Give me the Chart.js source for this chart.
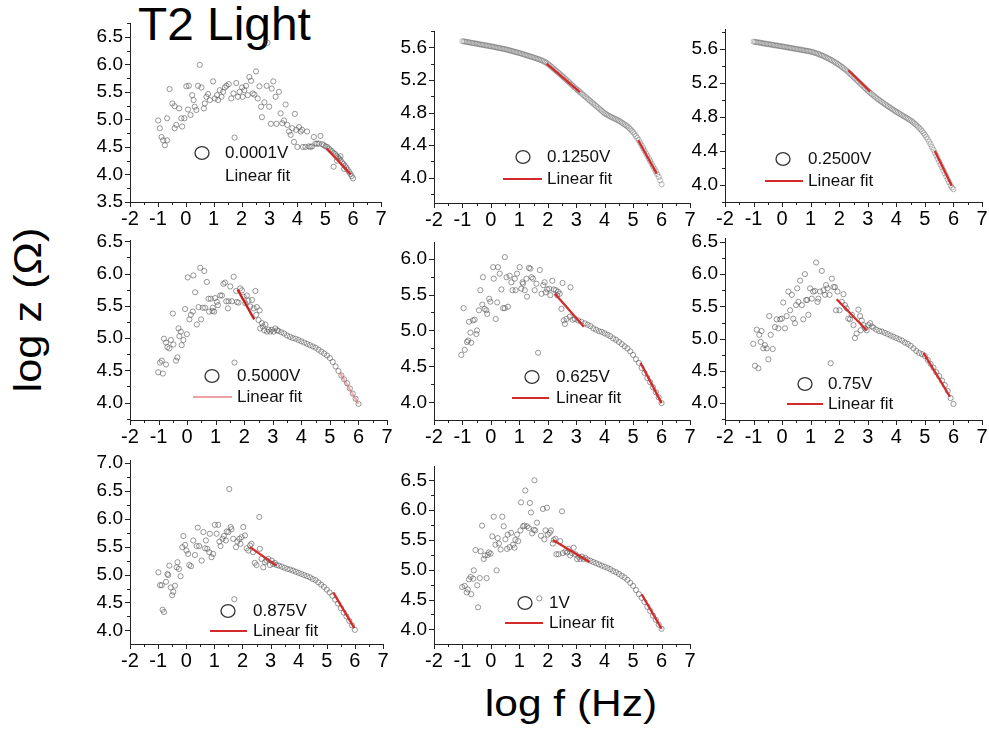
<!DOCTYPE html>
<html>
<head>
<meta charset="utf-8">
<title>T2 Light</title>
<script src="https://cdn.jsdelivr.net/npm/chart.js@4.4.1/dist/chart.umd.min.js"></script>
<style>
  html, body { margin: 0; padding: 0; background: #fff; }
  #fig { position: relative; width: 989px; height: 734px; overflow: hidden;
         font-family: "Liberation Sans", Arial, sans-serif; color: #000; }
  #fig canvas { position: absolute; }
  .lbl { position: absolute; white-space: nowrap; }
  #title { left: 138px; top: 1px; font-size: 46px; line-height: 46px;
           transform-origin: left center; transform: scaleX(1.04); }
  #ytitle { left: 28px; top: 310px; font-size: 38px; line-height: 38px;
            transform: translate(-50%, -50%) rotate(-90deg) scaleX(1.14); }
  #xtitle { left: 571px; top: 686px; font-size: 36px; line-height: 36px;
            transform: translateX(-50%) scaleX(1.18); }
</style>
</head>
<body>
<div id="fig">
  <div class="lbl" id="title">T2 Light</div>
  <div class="lbl" id="ytitle">log z (Ω)</div>
  <div class="lbl" id="xtitle">log f (Hz)</div>
</div>
<script>
// ---- axis tick labels ----
const fTicks   = [-2, -1, 0, 1, 2, 3, 4, 5, 6, 7];
const zTicksA  = [3.5, 4.0, 4.5, 5.0, 5.5, 6.0, 6.5];
const zTicksB  = [4.0, 4.4, 4.8, 5.2, 5.6];
const zTicksC  = [4.0, 4.5, 5.0, 5.5, 6.0, 6.5];
const zTicksD  = [4.0, 4.5, 5.0, 5.5, 6.0];
const zTicksE  = [4.0, 4.5, 5.0, 5.5, 6.0, 6.5, 7.0];

// ---- bias voltages ----
const biasLabels = ['0.0001V', '0.1250V', '0.2500V', '0.5000V', '0.625V', '0.75V', '0.875V', '1V'];

// ---- frequency sweep (log f) shared by the smooth spectra ----
const sweepF = [
  -1.00,-0.95,-0.90,-0.85,-0.80,-0.75,-0.70,-0.65,-0.60,-0.55,
  -0.50,-0.45,-0.40,-0.35,-0.30,-0.25,-0.20,-0.15,-0.10,-0.05,
   0.00, 0.05, 0.10, 0.15, 0.20, 0.25, 0.30, 0.35, 0.40, 0.45,
   0.50, 0.55, 0.60, 0.65, 0.70, 0.75, 0.80, 0.85, 0.90, 0.95,
   1.00, 1.05, 1.10, 1.15, 1.20, 1.25, 1.30, 1.35, 1.40, 1.45,
   1.50, 1.55, 1.60, 1.65, 1.70, 1.75, 1.80, 1.85, 1.90, 1.95,
   2.00, 2.05, 2.10, 2.15, 2.20, 2.25, 2.30, 2.35, 2.40, 2.45,
   2.50, 2.55, 2.60, 2.65, 2.70, 2.75, 2.80, 2.85, 2.90, 2.95,
   3.00, 3.05, 3.10, 3.15, 3.20, 3.25, 3.30, 3.35, 3.40, 3.45,
   3.50, 3.55, 3.60, 3.65, 3.70, 3.75, 3.80, 3.85, 3.90, 3.95,
   4.00, 4.05, 4.10, 4.15, 4.20, 4.25, 4.30, 4.35, 4.40, 4.45,
   4.50, 4.55, 4.60, 4.65, 4.70, 4.75, 4.80, 4.85, 4.90, 4.95,
   5.00, 5.05, 5.10, 5.15, 5.20, 5.25, 5.30, 5.35, 5.40, 5.45,
   5.50, 5.55, 5.60, 5.65, 5.70, 5.75, 5.80, 5.85, 5.90, 5.95,
   6.00
];

// log z at 0.1250 V
const z0125 = [
  5.675,5.672,5.669,5.666,5.663,5.660,5.656,5.653,5.650,5.647,
  5.644,5.641,5.637,5.634,5.631,5.628,5.625,5.621,5.618,5.615,
  5.612,5.609,5.605,5.602,5.598,5.594,5.591,5.587,5.584,5.580,
  5.577,5.572,5.568,5.563,5.558,5.554,5.549,5.544,5.540,5.535,
  5.530,5.525,5.519,5.514,5.508,5.503,5.497,5.492,5.486,5.481,
  5.475,5.469,5.463,5.457,5.451,5.445,5.438,5.430,5.420,5.410,
  5.398,5.385,5.370,5.355,5.340,5.325,5.310,5.295,5.280,5.265,
  5.250,5.234,5.218,5.202,5.186,5.170,5.154,5.138,5.122,5.106,
  5.090,5.075,5.060,5.045,5.030,5.015,5.000,4.985,4.970,4.955,
  4.940,4.925,4.910,4.895,4.880,4.865,4.850,4.835,4.820,4.805,
  4.790,4.780,4.770,4.760,4.750,4.742,4.733,4.725,4.717,4.708,
  4.700,4.689,4.677,4.665,4.653,4.642,4.630,4.613,4.596,4.578,
  4.560,4.536,4.512,4.487,4.460,4.428,4.396,4.364,4.332,4.300,
  4.268,4.236,4.204,4.172,4.140,4.110,4.078,4.045,4.010,3.968,
  3.920
];

// log z at 0.2500 V
const z0250 = [
  5.686,5.683,5.680,5.678,5.675,5.672,5.669,5.666,5.663,5.660,
  5.657,5.655,5.652,5.649,5.646,5.643,5.641,5.638,5.635,5.632,
  5.630,5.627,5.624,5.621,5.618,5.615,5.612,5.609,5.606,5.603,
  5.600,5.597,5.594,5.591,5.588,5.585,5.582,5.579,5.576,5.573,
  5.570,5.565,5.560,5.555,5.549,5.543,5.537,5.530,5.523,5.516,
  5.508,5.500,5.492,5.483,5.474,5.465,5.455,5.445,5.434,5.423,
  5.412,5.400,5.388,5.375,5.362,5.348,5.334,5.318,5.302,5.286,
  5.270,5.254,5.238,5.222,5.206,5.190,5.174,5.158,5.142,5.126,
  5.110,5.095,5.080,5.066,5.052,5.038,5.025,5.012,4.999,4.987,
  4.975,4.963,4.951,4.939,4.928,4.917,4.905,4.894,4.883,4.872,
  4.861,4.851,4.841,4.831,4.821,4.811,4.801,4.791,4.781,4.770,
  4.759,4.747,4.734,4.720,4.705,4.689,4.672,4.654,4.634,4.613,
  4.590,4.565,4.538,4.509,4.478,4.446,4.414,4.380,4.346,4.311,
  4.276,4.241,4.206,4.171,4.136,4.101,4.066,4.031,3.996,3.970,
  3.950
];

// [log f, log z] pairs for the noisy spectra
const pts0001 = [
  [-0.99,4.98],[-0.93,4.84],[-0.87,4.68],[-0.81,4.62],[-0.75,4.53],[-0.67,4.62],[-0.67,5.02],[-0.58,5.55],
  [-0.48,5.29],[-0.40,5.24],[-0.40,4.84],[-0.34,4.90],[-0.24,5.20],[-0.16,5.02],[-0.13,4.87],[-0.05,5.02],
  [0.02,5.60],[0.08,5.18],[0.11,5.61],[0.17,5.08],[0.23,5.44],[0.28,5.35],[0.32,5.23],[0.38,5.17],
  [0.44,5.61],[0.50,5.99],[0.56,5.58],[0.65,5.20],[0.68,5.29],[0.74,5.41],[0.80,5.46],[0.86,5.35],
  [0.98,5.69],[1.04,5.38],[1.12,5.44],[1.16,5.35],[1.22,5.53],[1.28,5.41],[1.34,5.50],[1.40,5.58],
  [1.46,5.61],[1.54,5.64],[1.63,5.38],[1.71,5.47],[1.75,4.67],[1.81,5.66],[1.87,5.41],[1.93,5.50],
  [2.02,5.58],[2.04,5.41],[2.10,5.53],[2.16,5.61],[2.22,5.44],[2.28,5.77],[2.34,5.70],[2.40,5.47],
  [2.46,5.45],[2.52,5.87],[2.58,5.38],[2.64,5.60],[2.70,5.23],[2.73,5.04],[2.82,5.31],[2.90,5.61],
  [2.93,6.39],[2.99,5.23],[3.05,4.92],[3.08,5.56],[3.14,5.69],[3.22,5.41],[3.25,4.92],[3.34,5.50],
  [3.40,5.11],[3.46,4.93],[3.52,4.98],[3.58,5.27],[3.64,4.90],[3.70,4.78],[3.76,4.72],[3.82,4.84],
  [3.88,4.59],[3.91,5.10],[3.96,4.81],[4.00,4.50],[4.06,4.86],[4.12,4.78],[4.17,4.81],[4.20,4.50],
  [4.29,4.50],[4.35,4.78],[4.41,4.51],[4.47,4.50],[4.53,4.51],[4.59,4.68],[4.65,4.56],[4.71,4.56],
  [4.77,4.56],[4.83,4.70],[4.89,4.55],[4.95,4.53],[5.01,4.51],[5.07,4.50],[5.13,4.47],[5.19,4.44],
  [5.24,4.42],[5.30,4.14],[5.30,4.39],[5.35,4.37],[5.40,4.34],[5.42,4.25],[5.45,4.31],[5.50,4.29],
  [5.55,4.33],[5.55,4.26],[5.60,4.22],[5.65,4.19],[5.68,4.10],[5.70,4.16],[5.75,4.13],[5.80,4.09],
  [5.85,4.05],[5.90,4.01],[5.95,3.97],[6.00,3.93]
];

const pts0500 = [
  [-1.01,4.47],[-0.85,4.45],[-0.95,4.62],[-0.89,4.65],[-0.74,4.59],[-0.81,4.99],[-0.74,4.93],[-0.69,4.86],
  [-0.62,4.84],[-0.57,4.97],[-0.50,5.38],[-0.48,4.90],[-0.39,4.65],[-0.34,4.70],[-0.30,5.15],[-0.27,5.03],
  [-0.22,5.10],[-0.19,4.89],[-0.13,4.97],[-0.07,5.45],[-0.01,5.06],[0.02,5.94],[0.08,5.29],[0.13,5.36],
  [0.20,5.41],[0.22,5.97],[0.28,5.71],[0.34,5.21],[0.40,5.48],[0.46,6.09],[0.49,5.29],[0.55,5.47],
  [0.60,6.04],[0.63,5.47],[0.69,5.87],[0.75,5.61],[0.77,5.41],[0.83,5.61],[0.89,5.42],[0.90,5.47],
  [0.95,5.41],[0.98,5.62],[1.04,5.56],[1.08,5.51],[1.16,5.66],[1.22,5.66],[1.27,5.84],[1.33,5.86],
  [1.37,5.57],[1.43,5.46],[1.45,5.57],[1.51,5.80],[1.57,5.57],[1.63,5.95],[1.66,4.62],[1.72,5.73],
  [1.74,5.56],[1.80,5.55],[1.86,5.77],[1.92,5.74],[1.98,5.64],[2.04,5.54],[2.09,5.66],[2.15,5.58],
  [2.21,5.49],[2.27,5.59],[2.33,5.46],[2.39,5.73],[2.42,5.36],[2.44,5.48],[2.50,5.28],[2.54,5.43],
  [2.56,5.15],[2.62,5.23],[2.65,5.18],[2.70,5.12],[2.74,5.21],[2.80,5.10],[2.85,5.13],[2.91,5.10],
  [2.97,5.13],[3.03,5.10],[3.09,5.15],[3.15,5.12],
  [3.2,5.11],[3.3,5.09],[3.4,5.07],[3.5,5.04],[3.6,5.02],[3.7,5.00],[3.8,4.99],[3.9,4.97],
  [4.0,4.95],[4.1,4.93],[4.2,4.91],[4.3,4.89],[4.4,4.87],[4.5,4.85],[4.6,4.82],[4.7,4.79],
  [4.8,4.76],[4.9,4.73],[5.0,4.69],[5.1,4.63],[5.2,4.56],[5.3,4.49],[5.4,4.42],[5.5,4.36],
  [5.6,4.30],[5.7,4.22],[5.8,4.14],[5.9,4.06],[6.0,3.98]
];

const pts0625 = [
  [-1.04,4.66],[-0.96,5.31],[-0.92,4.73],[-0.84,4.84],[-0.80,4.86],[-0.77,5.12],[-0.72,4.97],[-0.69,4.83],
  [-0.63,5.14],[-0.57,5.15],[-0.51,4.95],[-0.49,5.00],[-0.42,5.28],[-0.37,5.56],[-0.30,5.36],[-0.28,5.74],
  [-0.22,5.30],[-0.16,5.28],[-0.13,5.23],[-0.06,5.44],[-0.02,5.40],[0.08,5.88],[0.10,5.72],[0.17,5.16],
  [0.22,5.39],[0.25,5.88],[0.31,5.79],[0.37,5.57],[0.43,5.31],[0.49,6.02],[0.49,5.31],[0.55,5.74],
  [0.60,5.33],[0.66,5.76],[0.72,5.67],[0.76,5.56],[0.84,5.72],[0.87,5.56],[0.92,5.79],[1.01,5.88],
  [1.07,5.58],[1.11,5.67],[1.13,5.65],[1.19,5.56],[1.25,5.72],[1.27,5.47],[1.34,5.87],[1.39,5.86],
  [1.43,5.74],[1.48,5.72],[1.54,5.56],[1.60,5.65],[1.66,4.69],[1.72,5.84],[1.78,5.51],[1.84,5.63],
  [1.89,5.67],[1.93,5.53],[1.98,5.57],[2.05,5.58],[2.09,5.49],[2.16,5.69],[2.21,5.57],[2.28,5.56],
  [2.33,5.49],[2.36,5.54],[2.42,5.51],[2.48,5.30],[2.52,5.66],[2.56,5.14],[2.60,5.09],[2.66,5.16],
  [2.77,5.19],[2.80,5.60],[2.87,5.15],[2.95,5.16],[3.07,5.14],[3.18,5.12],
  [3.3,5.10],[3.4,5.08],[3.5,5.06],[3.6,5.03],[3.7,5.01],[3.8,4.99],[3.9,4.98],[4.0,4.96],
  [4.1,4.94],[4.2,4.92],[4.3,4.89],[4.4,4.87],[4.5,4.84],[4.6,4.81],[4.7,4.78],[4.8,4.75],
  [4.9,4.71],[5.0,4.66],[5.1,4.60],[5.2,4.55],[5.3,4.48],[5.4,4.41],[5.5,4.34],[5.6,4.28],
  [5.7,4.21],[5.8,4.14],[5.9,4.07],[6.0,3.99]
];

const pts0750 = [
  [-1.01,4.92],[-0.95,4.58],[-0.89,5.14],[-0.83,4.54],[-0.80,5.06],[-0.75,4.95],[-0.72,5.12],[-0.66,4.85],
  [-0.60,4.90],[-0.54,4.85],[-0.48,4.68],[-0.45,5.35],[-0.40,5.06],[-0.33,4.84],[-0.25,5.18],[-0.19,5.30],
  [-0.13,5.16],[-0.07,5.30],[-0.01,5.31],[0.04,5.56],[0.10,5.16],[0.16,5.35],[0.22,5.73],[0.28,5.44],
  [0.34,5.68],[0.39,5.31],[0.45,5.24],[0.49,5.52],[0.53,5.78],[0.57,5.57],[0.63,5.90],[0.69,5.52],
  [0.74,5.30],[0.80,6.00],[0.84,5.60],[0.88,5.60],[0.92,5.37],[0.98,5.78],[1.04,5.62],[1.09,5.73],
  [1.15,5.74],[1.19,6.18],[1.24,5.57],[1.27,5.62],[1.33,5.73],[1.39,6.05],[1.45,5.75],[1.50,5.68],
  [1.54,5.83],[1.59,5.78],[1.66,5.68],[1.70,4.62],[1.74,5.93],[1.80,5.80],[1.85,5.80],[1.89,5.44],
  [1.94,5.73],[2.01,5.44],[2.09,5.57],[2.15,5.69],[2.20,5.52],[2.26,5.47],[2.32,5.31],[2.38,5.30],
  [2.44,5.37],[2.50,5.21],[2.55,5.01],[2.61,5.08],[2.67,5.45],[2.73,5.35],[2.75,5.13],[2.79,5.28],
  [2.85,5.21],[2.91,5.16],[2.96,5.13],[3.02,5.21],[3.08,5.24],[3.14,5.19],
  [3.2,5.17],[3.3,5.14],[3.4,5.12],[3.5,5.11],[3.6,5.09],[3.7,5.07],[3.8,5.05],[3.9,5.03],
  [4.0,5.01],[4.1,4.99],[4.2,4.97],[4.3,4.94],[4.4,4.92],[4.5,4.89],[4.6,4.85],[4.7,4.81],
  [4.8,4.78],[4.9,4.76],[5.0,4.73],[5.1,4.67],[5.2,4.61],[5.3,4.55],[5.4,4.48],[5.5,4.42],
  [5.6,4.35],[5.7,4.28],[5.8,4.19],[5.9,4.08],[6.0,3.99]
];

const pts0875 = [
  [-0.99,5.04],[-0.93,4.81],[-0.87,4.81],[-0.84,4.37],[-0.79,4.33],[-0.72,4.87],[-0.67,5.01],[-0.64,4.99],
  [-0.60,5.16],[-0.55,4.77],[-0.50,4.63],[-0.46,4.69],[-0.40,4.80],[-0.34,5.13],[-0.31,5.22],[-0.26,5.10],
  [-0.20,4.97],[-0.14,5.49],[-0.10,5.69],[-0.04,5.53],[0.01,5.43],[0.07,5.37],[0.11,5.17],[0.17,5.15],
  [0.25,5.61],[0.31,5.35],[0.37,5.51],[0.41,5.84],[0.46,5.51],[0.55,5.25],[0.61,5.76],[0.67,5.47],
  [0.70,5.61],[0.75,5.46],[0.82,5.40],[0.84,5.73],[0.90,5.31],[0.96,5.37],[1.02,5.89],[1.08,5.73],
  [1.14,5.89],[1.18,5.59],[1.22,5.51],[1.29,5.64],[1.34,5.69],[1.41,5.61],[1.44,5.77],[1.50,5.76],
  [1.53,6.53],[1.58,5.85],[1.61,5.81],[1.67,5.64],[1.71,4.56],[1.77,5.49],[1.82,5.59],[1.89,5.64],
  [1.93,5.55],[1.97,5.67],[2.03,5.85],[2.09,5.70],[2.15,5.47],[2.21,5.43],[2.27,5.52],[2.32,5.55],
  [2.38,5.40],[2.44,5.21],[2.50,5.17],[2.60,6.03],[2.62,5.46],[2.68,5.28],[2.74,5.13],[2.80,5.22],
  [2.86,5.25],[2.92,5.28],[2.98,5.17],[3.04,5.25],[3.09,5.19],[3.15,5.21],[3.21,5.17],
  [3.3,5.16],[3.4,5.14],[3.5,5.12],[3.6,5.10],[3.7,5.09],[3.8,5.07],[3.9,5.05],[4.0,5.03],
  [4.1,5.01],[4.2,4.99],[4.3,4.97],[4.4,4.95],[4.5,4.92],[4.6,4.90],[4.7,4.86],[4.8,4.82],
  [4.9,4.78],[5.0,4.73],[5.1,4.68],[5.2,4.62],[5.3,4.55],[5.4,4.48],[5.5,4.40],[5.6,4.32],
  [5.7,4.25],[5.8,4.17],[5.9,4.09],[6.0,4.01]
];

const pts1000 = [
  [-1.01,4.71],[-0.92,4.73],[-0.85,4.62],[-0.81,4.67],[-0.77,4.84],[-0.71,4.88],[-0.69,4.59],[-0.62,4.85],
  [-0.60,4.99],[-0.54,5.33],[-0.48,4.74],[-0.45,4.37],[-0.39,4.86],[-0.36,5.31],[-0.31,5.74],[-0.25,5.18],
  [-0.21,5.24],[-0.15,4.86],[-0.11,5.25],[-0.07,5.29],[-0.01,5.27],[0.05,5.56],[0.10,5.89],[0.16,5.42],
  [0.20,4.99],[0.24,5.53],[0.28,5.44],[0.34,5.34],[0.40,5.89],[0.45,5.73],[0.51,5.51],[0.57,5.35],
  [0.59,5.59],[0.66,5.38],[0.71,5.62],[0.78,5.42],[0.83,5.37],[0.86,5.50],[0.92,5.59],[0.96,5.48],
  [1.04,5.66],[1.06,6.13],[1.13,5.73],[1.18,5.74],[1.21,6.33],[1.27,5.73],[1.33,5.70],[1.37,6.12],
  [1.41,5.96],[1.45,5.61],[1.51,5.67],[1.53,6.50],[1.56,5.66],[1.62,5.79],[1.70,4.52],[1.76,5.57],
  [1.83,6.02],[1.88,5.51],[1.92,5.66],[1.97,6.04],[2.00,5.59],[2.07,5.62],[2.11,5.66],[2.18,5.44],
  [2.21,5.50],[2.27,5.52],[2.30,5.26],[2.38,5.26],[2.44,5.48],[2.50,5.98],[2.53,5.28],[2.62,5.31],
  [2.68,5.29],[2.73,5.35],[2.79,5.24],[2.85,5.28],[2.91,5.37],[2.97,5.26],[3.03,5.18],[3.08,5.22],
  [3.14,5.18],[3.20,5.22],[3.26,5.18],[3.32,5.20],
  [3.4,5.17],[3.5,5.15],[3.6,5.13],[3.7,5.11],[3.8,5.09],[3.9,5.07],[4.0,5.05],[4.1,5.03],
  [4.2,5.01],[4.3,4.98],[4.4,4.96],[4.5,4.93],[4.6,4.90],[4.7,4.87],[4.8,4.83],[4.9,4.78],
  [5.0,4.73],[5.1,4.66],[5.2,4.59],[5.3,4.53],[5.4,4.46],[5.5,4.38],[5.6,4.31],[5.7,4.23],
  [5.8,4.16],[5.9,4.08],[6.0,4.01]
];

// linear-fit segments: [[f0, z0], [f1, z1]]
const fit0001 = [[[5.05,4.47],[5.92,4.00]]];
const fit0125 = [[[1.96,5.40],[3.13,5.05]], [[5.18,4.46],[5.83,4.05]]];
const fit0250 = [[[2.32,5.35],[3.08,5.10]], [[5.35,4.40],[5.94,3.99]]];
const fit0500 = [[[1.77,5.75],[2.35,5.29]], [[5.35,4.46],[6.00,3.98]]];
const fit0625 = [[[2.25,5.51],[3.27,5.05]], [[5.26,4.55],[6.00,3.99]]];
const fit0750 = [[[1.91,5.61],[2.96,5.13]], [[4.95,4.78],[5.88,4.10]]];
const fit0875 = [[[2.27,5.49],[3.21,5.16]], [[5.23,4.68],[5.98,4.04]]];
const fit1000 = [[[2.18,5.50],[3.47,5.13]], [[5.30,4.59],[6.00,4.01]]];

// ---- styling ----
const FONT = '"Liberation Sans", Arial, Helvetica, sans-serif';
const RED = '#d42a2a';
const PINK = 'rgba(232,120,120,0.6)';
const PT_COLOR = 'rgba(85,85,85,0.8)';
const PT_DENSE = 'rgba(95,95,95,0.55)';

const pairs = a => a.map(p => ({ x: p[0], y: p[1] }));
const onSweep = z => sweepF.map((f, i) => ({ x: f, y: z[i] }));

// page-pixel boxes of each plot area: [left, right, top, bottom]
const panels = [
  { data: pairs(pts0001), fits: fit0001, fitColors: [RED], y: [3.5, 6.75], yMajor: zTicksA,
    box: [130, 381, 23, 202], label: biasLabels[0], ptColor: PT_COLOR,
    legend: { circle: [202, 153], textX: 225, row2: 176, line: null } },
  { data: onSweep(z0125), fits: fit0125, fitColors: [RED, RED], y: [3.69, 5.8], yMajor: zTicksB,
    box: [434, 690, 31, 203], label: biasLabels[1], ptColor: PT_DENSE,
    legend: { circle: [523, 157], textX: 547, row2: 179, line: [503, 542], color: RED } },
  { data: onSweep(z0250), fits: fit0250, fitColors: [RED, RED], y: [3.8, 5.835], yMajor: zTicksB,
    box: [725, 982, 29, 202], label: biasLabels[2], ptColor: PT_DENSE,
    legend: { circle: [783, 159], textX: 808, row2: 181, line: [765, 803], color: RED } },
  { data: pairs(pts0500), fits: fit0500, fitColors: ['#c42020', PINK], y: [3.73, 6.52], yMajor: zTicksC,
    box: [130, 387, 240, 420], label: biasLabels[3], ptColor: PT_COLOR,
    legend: { circle: [212, 376], textX: 237, row2: 397, line: [193, 232], color: 'rgba(232,140,140,0.8)' } },
  { data: pairs(pts0625), fits: fit0625, fitColors: [RED, RED], y: [3.755, 6.23], yMajor: zTicksD,
    box: [434, 690, 242, 420], label: biasLabels[4], ptColor: PT_COLOR,
    legend: { circle: [532, 377], textX: 556, row2: 398, line: [512, 549], color: RED } },
  { data: pairs(pts0750), fits: fit0750, fitColors: [RED, RED], y: [3.74, 6.56], yMajor: zTicksC,
    box: [725, 982, 238, 420], label: biasLabels[5], ptColor: PT_COLOR,
    legend: { circle: [805, 384], textX: 828, row2: 404, line: [787, 823], color: RED } },
  { data: pairs(pts0875), fits: fit0875, fitColors: [RED, RED], y: [3.757, 7.05], yMajor: zTicksE,
    box: [130, 383, 460, 644], label: biasLabels[6], ptColor: PT_COLOR,
    legend: { circle: [228, 611], textX: 253, row2: 631, line: [210, 247], color: RED } },
  { data: pairs(pts1000), fits: fit1000, fitColors: [RED, RED], y: [3.755, 6.74], yMajor: zTicksC,
    box: [434, 690, 466, 644], label: biasLabels[7], ptColor: PT_COLOR,
    legend: { circle: [525, 603], textX: 549, row2: 623, line: [505, 543], color: RED } }
];

// major ticks carry labels, a minor tick sits halfway between each pair
function tickList(major, lo, hi, digits) {
  const step = (major[1] - major[0]) / 2;
  const k0 = Math.ceil((lo - major[0]) / step - 1e-6);
  const k1 = Math.floor((hi - major[0]) / step + 1e-6);
  const out = [];
  for (let k = k0; k <= k1; k++) {
    const v = +(major[0] + k * step).toFixed(4);
    out.push({ value: v, minor: k % 2 !== 0, text: v.toFixed(digits) });
  }
  return out;
}

// outward tick marks, long for major and short for minor ticks
const tickMarks = {
  id: 'tickMarks',
  afterDraw(chart) {
    const { ctx } = chart;
    const xs = chart.scales.x, ys = chart.scales.y;
    ctx.save();
    ctx.strokeStyle = '#222';
    ctx.lineWidth = 1;
    ctx.beginPath();
    const xTop = Math.round(xs.top);
    xs.ticks.forEach(t => {
      const p = Math.round(xs.getPixelForValue(t.value)) + 0.5;
      ctx.moveTo(p, xTop);
      ctx.lineTo(p, xTop + (t.minor ? 3 : 5));
    });
    const yRight = Math.round(ys.right);
    ys.ticks.forEach(t => {
      const p = Math.round(ys.getPixelForValue(t.value)) + 0.5;
      ctx.moveTo(yRight, p);
      ctx.lineTo(yRight - (t.minor ? 3 : 5), p);
    });
    ctx.stroke();
    ctx.restore();
  }
};

// in-plot legend: open circle + bias label, line sample + "Linear fit"
const panelLegend = {
  id: 'panelLegend',
  afterDraw(chart, args, o) {
    const ctx = chart.ctx;
    const ox = o.origin[0], oy = o.origin[1];
    ctx.save();
    ctx.strokeStyle = '#333';
    ctx.lineWidth = 1.3;
    ctx.beginPath();
    ctx.ellipse(o.circle[0] - ox, o.circle[1] - oy, 7, 6.4, 0, 0, Math.PI * 2);
    ctx.stroke();
    ctx.font = '17px ' + FONT;
    ctx.fillStyle = '#111';
    ctx.textBaseline = 'middle';
    ctx.textAlign = 'left';
    ctx.fillText(o.label, o.textX - ox, o.circle[1] - oy);
    if (o.line) {
      ctx.strokeStyle = o.color;
      ctx.lineWidth = 2;
      ctx.beginPath();
      ctx.moveTo(o.line[0] - ox, o.row2 - oy);
      ctx.lineTo(o.line[1] - ox, o.row2 - oy);
      ctx.stroke();
    }
    ctx.fillText('Linear fit', o.textX - ox, o.row2 - oy);
    ctx.restore();
  }
};

const fig = document.getElementById('fig');
const PAD_L = 56, PAD_T = 14, PAD_R = 16, AXIS_H = 36;

panels.forEach(p => {
  const [L, R, T, B] = p.box;
  const canvas = document.createElement('canvas');
  const w = (R - L) + PAD_L + PAD_R;
  const h = (B - T) + PAD_T + AXIS_H;
  canvas.width = w; canvas.height = h;
  canvas.style.left = (L - PAD_L) + 'px';
  canvas.style.top = (T - PAD_T) + 'px';
  canvas.style.width = w + 'px';
  canvas.style.height = h + 'px';
  fig.appendChild(canvas);

  const xTicks = tickList(fTicks, -2, 7, 0);
  const yTicks = tickList(p.yMajor, p.y[0], p.y[1], 1);

  const datasets = p.fits.map((seg, i) => ({
    data: pairs(seg),
    showLine: true,
    borderColor: p.fitColors[i],
    borderWidth: 2.3,
    pointRadius: 0,
    fill: false
  }));
  datasets.push({
    data: p.data,
    showLine: false,
    pointStyle: 'circle',
    pointRadius: 2.6,
    pointBorderWidth: 0.75,
    borderColor: p.ptColor,
    pointBorderColor: p.ptColor,
    backgroundColor: 'rgba(255,255,255,0)',
    pointBackgroundColor: 'rgba(255,255,255,0)'
  });

  new Chart(canvas, {
    type: 'scatter',
    data: { datasets },
    plugins: [tickMarks, panelLegend],
    options: {
      responsive: false,
      animation: false,
      events: [],
      layout: { padding: { left: 0, top: PAD_T, right: PAD_R, bottom: 0 } },
      plugins: {
        legend: { display: false },
        tooltip: { enabled: false },
        panelLegend: Object.assign({ origin: [L - PAD_L, T - PAD_T], label: p.label }, p.legend)
      },
      scales: {
        x: {
          type: 'linear', min: -2, max: 7,
          border: { display: true, color: '#222', width: 1 },
          grid: { display: true, drawOnChartArea: false, drawTicks: true, tickLength: 5, tickColor: 'rgba(0,0,0,0)' },
          afterBuildTicks: axis => { axis.ticks = xTicks.map(t => Object.assign({}, t)); },
          afterFit: axis => { axis.height = AXIS_H; axis.paddingLeft = 0; axis.paddingRight = 0; },
          ticks: {
            autoSkip: false, maxRotation: 0, minRotation: 0, padding: 0,
            color: '#000', font: { family: FONT, size: 20 },
            callback: (v, i, ts) => ts[i].minor ? '' : ts[i].text
          }
        },
        y: {
          type: 'linear', min: p.y[0], max: p.y[1],
          border: { display: true, color: '#222', width: 1 },
          grid: { display: true, drawOnChartArea: false, drawTicks: true, tickLength: 5, tickColor: 'rgba(0,0,0,0)' },
          afterBuildTicks: axis => { axis.ticks = yTicks.map(t => Object.assign({}, t)); },
          afterFit: axis => { axis.width = PAD_L; axis.paddingTop = 0; axis.paddingBottom = 0; },
          ticks: {
            autoSkip: false, padding: 2,
            color: '#000', font: { family: FONT, size: 19 },
            callback: (v, i, ts) => ts[i].minor ? '' : ts[i].text
          }
        }
      }
    }
  });
});
</script>
</body>
</html>
